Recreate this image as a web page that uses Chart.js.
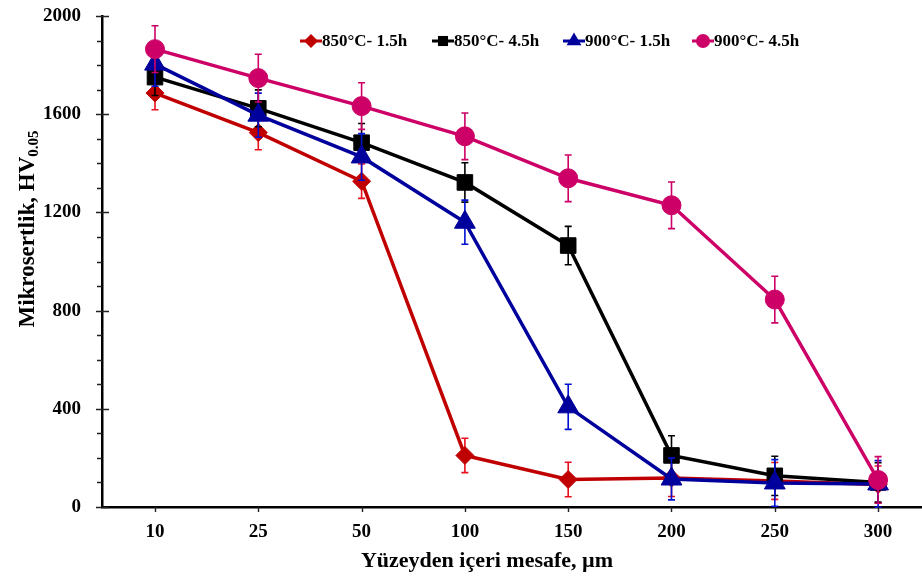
<!DOCTYPE html>
<html>
<head>
<meta charset="utf-8">
<script src="https://cdn.jsdelivr.net/npm/chart.js@4/dist/chart.umd.min.js"></script>
<style>
html, body { margin: 0; padding: 0; background: #fff; }
</style>
</head>
<body>
<canvas id="canvas" width="922" height="577"></canvas>
<script>
// distance from surface (um) - equally spaced categories
var categories = ['10', '25', '50', '100', '150', '200', '250', '300'];
var yTicks = [0, 400, 800, 1200, 1600, 2000];

var labels = ['850°C- 1.5h', '850°C- 4.5h', '900°C- 1.5h', '900°C- 4.5h'];

var hv850_15 = [1686, 1525, 1327, 210, 112, 118, 106, 92];
var err850_15 = [68, 70, 70, 70, 70, 75, 75, 75];

var hv850_45 = [1751, 1624, 1484, 1322, 1065, 210, 127, 100];
var err850_45 = [75, 75, 78, 80, 78, 80, 80, 80];

var hv900_15 = [1804, 1596, 1426, 1160, 408, 114, 98, 94];
var err900_15 = [90, 90, 95, 90, 92, 85, 95, 95];

var hv900_45 = [1865, 1747, 1633, 1510, 1339, 1229, 845, 110];
var err900_45 = [95, 97, 95, 95, 95, 95, 95, 95];

var FONT = "'Liberation Serif', 'Times New Roman', serif";

function pts(vals) {
	return vals.map(function (v, i) { return { x: i, y: v }; });
}

function series(label, vals, errs, color, errColor, style, radius, order) {
	return {
		label: label,
		data: pts(vals),
		errs: errs,
		errColor: errColor,
		borderColor: color,
		backgroundColor: color,
		borderWidth: 3.5,
		pointStyle: style,
		pointRadius: radius,
		pointHoverRadius: radius,
		pointBackgroundColor: color,
		pointBorderColor: color,
		pointBorderWidth: 1,
		tension: 0,
		order: order
	};
}

// error bars, drawn under each series
var errorBars = {
	id: 'errorBars',
	beforeDatasetDraw: function (chart, args) {
		var ds = chart.data.datasets[args.index];
		if (!ds.errs) return;
		var ctx = chart.ctx;
		var y = chart.scales.y;
		ctx.save();
		ctx.strokeStyle = ds.errColor;
		ctx.lineWidth = 1.6;
		args.meta.data.forEach(function (el, i) {
			var v = ds.data[i].y, e = ds.errs[i];
			var top = y.getPixelForValue(v + e), bot = y.getPixelForValue(v - e);
			ctx.beginPath();
			ctx.moveTo(el.x, top); ctx.lineTo(el.x, bot);
			ctx.moveTo(el.x - 3.5, top); ctx.lineTo(el.x + 3.5, top);
			ctx.moveTo(el.x - 3.5, bot); ctx.lineTo(el.x + 3.5, bot);
			ctx.stroke();
		});
		ctx.restore();
	}
};

function marker(ctx, style, x, y, r, color) {
	ctx.fillStyle = color;
	ctx.beginPath();
	if (style == 'rectRot') {
		ctx.moveTo(x, y - r); ctx.lineTo(x + r, y); ctx.lineTo(x, y + r); ctx.lineTo(x - r, y);
	} else if (style == 'rect') {
		ctx.rect(x - r * 0.72, y - r * 0.72, r * 1.44, r * 1.44);
	} else if (style == 'triangle') {
		ctx.moveTo(x, y - r); ctx.lineTo(x + r * 0.87, y + r * 0.5); ctx.lineTo(x - r * 0.87, y + r * 0.5);
	} else {
		ctx.arc(x, y, r, 0, Math.PI * 2);
	}
	ctx.closePath();
	ctx.fill();
}

// ticks, legend and axis titles
var decor = {
	id: 'decor',
	afterDraw: function (chart) {
		var ctx = chart.ctx;
		var xs = chart.scales.x, ys = chart.scales.y;
		var left = chart.chartArea.left, bottom = chart.chartArea.bottom;
		ctx.save();
		ctx.strokeStyle = '#222';
		ctx.lineWidth = 1.4;
		ctx.beginPath();
		for (var v = 0; v <= 2000; v += 100) {
			var py = Math.round(ys.getPixelForValue(v)) + 0.5;
			if (v % 400 == 0) { ctx.moveTo(left - 6, py); ctx.lineTo(left + 7, py); }
			else { ctx.moveTo(left - 5, py); ctx.lineTo(left, py); }
		}
		categories.forEach(function (c, i) {
			var px = Math.round(xs.getPixelForValue(i)) + 0.5;
			ctx.moveTo(px, bottom); ctx.lineTo(px, bottom + 5);
		});
		ctx.stroke();

		// legend
		var lx = [300, 432, 563, 692];
		var ly = 41;
		ctx.font = 'bold 17px ' + FONT;
		ctx.textBaseline = 'middle';
		ctx.textAlign = 'left';
		chart.data.datasets.forEach(function (ds, i) {
			ctx.strokeStyle = ds.borderColor;
			ctx.lineWidth = 3;
			ctx.beginPath();
			ctx.moveTo(lx[i], ly); ctx.lineTo(lx[i] + 22, ly);
			ctx.stroke();
			marker(ctx, ds.pointStyle, lx[i] + 11, ly, ds.pointStyle == 'triangle' ? 8.5 : 7, ds.borderColor);
			ctx.fillStyle = '#000';
			ctx.fillText(ds.label, lx[i] + 22, ly + 1);
		});

		// x title
		ctx.textBaseline = 'alphabetic';
		ctx.textAlign = 'center';
		ctx.font = 'bold 22px ' + FONT;
		ctx.fillText('Yüzeyden içeri mesafe, µm', 487, 567);

		// y title with subscript
		ctx.translate(34, 229);
		ctx.rotate(-Math.PI / 2);
		ctx.textAlign = 'left';
		var main = 'Mikrosertlik, HV', sub = '0.05';
		ctx.font = 'bold 23px ' + FONT;
		var w1 = ctx.measureText(main).width;
		ctx.font = 'bold 15px ' + FONT;
		var w2 = ctx.measureText(sub).width;
		var x0 = -(w1 + w2) / 2;
		ctx.font = 'bold 23px ' + FONT;
		ctx.fillText(main, x0, 0);
		ctx.font = 'bold 15px ' + FONT;
		ctx.fillText(sub, x0 + w1, 4);
		ctx.restore();
	}
};

function noPad(s) {
	s.paddingTop = 0; s.paddingBottom = 0; s.paddingLeft = 0; s.paddingRight = 0;
}

var ctx = document.getElementById('canvas').getContext('2d');
var chart = new Chart(ctx, {
	type: 'line',
	data: {
		datasets: [
			series(labels[0], hv850_15, err850_15, '#C00000', '#E8101E', 'rectRot', 9, 3),
			series(labels[1], hv850_45, err850_45, '#000000', '#000000', 'rect', 11, 2),
			series(labels[2], hv900_15, err900_15, '#00009C', '#0010D0', 'triangle', 12, 1),
			series(labels[3], hv900_45, err900_45, '#CC0066', '#CC0066', 'circle', 9.5, 0)
		]
	},
	options: {
		responsive: false,
		animation: false,
		events: [],
		layout: { autoPadding: false, padding: { top: 16, right: 0, left: 0, bottom: 0 } },
		plugins: {
			legend: { display: false },
			tooltip: { enabled: false }
		},
		scales: {
			x: {
				type: 'linear',
				min: -0.513,
				max: 7.425,
				afterFit: function (s) { s.height = 70; noPad(s); },
				afterBuildTicks: function (s) {
					s.ticks = categories.map(function (c, i) { return { value: i }; });
				},
				grid: { display: false },
				border: { display: true, color: '#000', width: 2.5 },
				ticks: {
					padding: 6,
					color: '#000',
					font: { family: FONT, size: 19, weight: 'bold' },
					callback: function (v) { return categories[v]; }
				}
			},
			y: {
				min: 0,
				max: 2000,
				afterFit: function (s) { s.width = 102; noPad(s); },
				afterBuildTicks: function (s) {
					s.ticks = yTicks.map(function (v) { return { value: v }; });
				},
				grid: { display: false },
				border: { display: true, color: '#000', width: 2.5 },
				ticks: {
					padding: 13,
					color: '#000',
					font: { family: FONT, size: 19, weight: 'bold' },
					callback: function (v) { return String(v); }
				}
			}
		}
	},
	plugins: [errorBars, decor]
});
</script>
</body>
</html>
